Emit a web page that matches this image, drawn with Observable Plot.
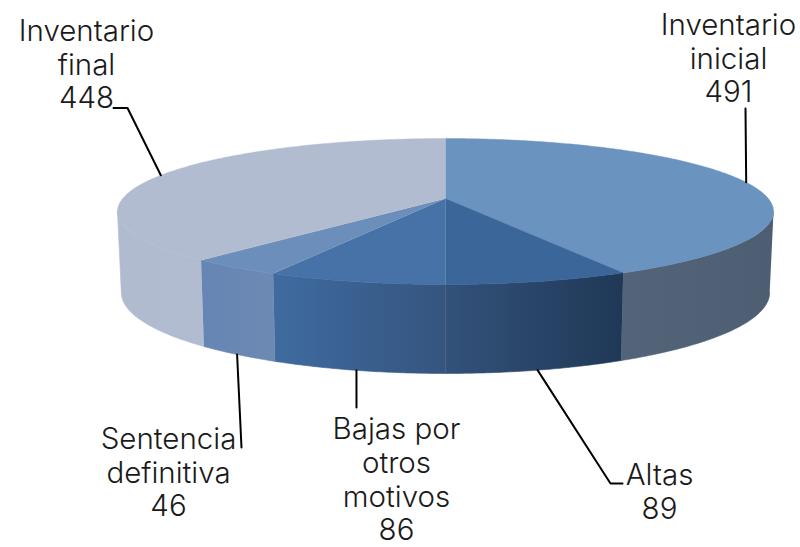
<!DOCTYPE html>
<html><head><meta charset="utf-8">
<script src="https://cdn.jsdelivr.net/npm/d3@7"></script>
<script src="https://cdn.jsdelivr.net/npm/@observablehq/plot@0.6"></script>
<style>html,body{margin:0;padding:0;background:#fff}svg{display:block;background:#fff}</style>
</head><body><div id="chart"></div>
<script>
// Data
const categories = ["Inventario\ninicial", "Altas", "Bajas por\notros\nmotivos", "Sentencia\ndefinitiva", "Inventario\nfinal"];
const values = [491, 89, 86, 46, 448];

// Styles and layout
const topColors = ["#6b93bf", "#3b6699", "#4672a8", "#6c8eba", "#b1bcd1"];
const wallStops = [["#536479", "#4e5e72"], ["#33527a", "#1f3856"], ["#3f6ba0", "#35557f"], ["#6685b4", "#6c8ab2"], ["#b0bbd0", "#b1bcd1"]];
const labelX = [728, 659, 396, 168, 86];
const labelY = [10.5, 460.5, 415, 424.5, 16.5];
const leaderVia = [[[745, 108]], [[610, 483], [622, 483]], [[356, 407]], [[241, 447]], [[127, 107.5], [113, 107.5]]];
const leaderOnTop = [true, false, false, false, true];
const cam = {cx: 445, k: 0.178};
const topFace = {A: 322.8, y0: 198, B: 70.7};
const baseFace = {A: 319, y0: 277.6, B: 78.4};

const total = d3.sum(values);
const cum = d3.cumsum(values);
const angle = v => v / total * 2 * Math.PI;
const project = (f, t) => {
  const u = Math.sin(t), v = -Math.cos(t), d = 1 - cam.k * v;
  return {x: cam.cx + f.A * u / d, y: f.y0 + f.B * v / d};
};
const arc = (f, a, b) => {
  const n = Math.max(2, Math.ceil(Math.abs(b - a) / 0.01));
  return d3.range(n + 1).map(i => project(f, a + (b - a) * i / n));
};
const starts = values.map((_, i) => i ? angle(cum[i - 1]) : 0);
const ends = values.map((_, i) => angle(cum[i]));
const frontA = Math.acos(-cam.k), frontB = 2 * Math.PI - frontA; // silhouette extremes
const tops = values.map((_, i) => [{x: cam.cx, y: topFace.y0}, ...arc(topFace, starts[i], ends[i])]);
const walls = values.map((_, i) => {
  const a = Math.max(starts[i], frontA), b = Math.min(ends[i], frontB);
  return [...arc(topFace, a, b), ...arc(baseFace, b, a)];
});
const leaders = values.map((_, i) => {
  const mid = (starts[i] + ends[i]) / 2;
  return [project(leaderOnTop[i] ? topFace : baseFace, mid), ...leaderVia[i].map(([x, y]) => ({x, y}))];
});
const labels = categories.map((c, i) => ({text: `${c}\n${values[i]}`, x: labelX[i], y: labelY[i]}));

const defs = () => {
  const d = d3.create("svg:defs");
  wallStops.forEach((s, i) => {
    const g = d.append("linearGradient").attr("id", "wall" + i);
    g.append("stop").attr("offset", 0).attr("stop-color", s[0]);
    g.append("stop").attr("offset", 1).attr("stop-color", s[1]);
  });
  return d.node();
};

const chart = Plot.plot({
  width: 800, height: 547, margin: 0,
  x: {domain: [0, 800], range: [0, 800], axis: null},
  y: {domain: [0, 547], range: [0, 547], axis: null},
  marks: [
    defs,
    ...walls.map((w, i) => Plot.line(w, {x: "x", y: "y", fill: `url(#wall${i})`, stroke: `url(#wall${i})`, strokeWidth: 0.6})),
    ...tops.map((t, i) => Plot.line(t, {x: "x", y: "y", fill: topColors[i], stroke: topColors[i], strokeWidth: 0.4})),
    ...leaders.map(l => Plot.line(l, {x: "x", y: "y", stroke: "#000", strokeWidth: 2, curve: "linear"})),
    Plot.text(labels, {x: "x", y: "y", text: "text", lineAnchor: "top", textAnchor: "middle", fontFamily: "Inter", fontWeight: 300, fontSize: 29.5, lineHeight: 1.14, fill: "#1a1a1a"})
  ]
});
document.getElementById("chart").append(chart);
</script></body></html>
